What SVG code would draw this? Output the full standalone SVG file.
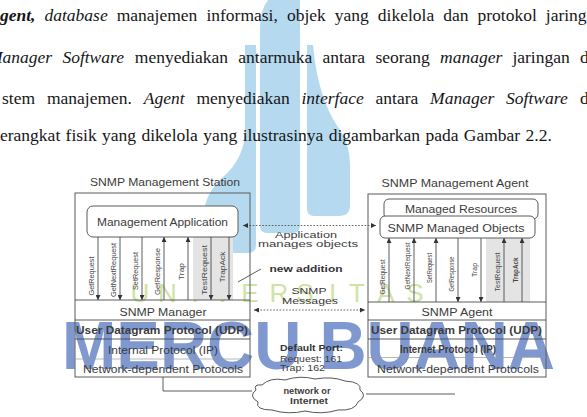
<svg xmlns="http://www.w3.org/2000/svg" width="587" height="417" viewBox="0 0 587 417">
<style>
.body{font-family:"Liberation Serif","Times New Roman",serif;font-size:17.5px;fill:#161616}
.it{font-style:italic}
.bi{font-style:italic;font-weight:bold}
.dg{font-family:"Liberation Sans",Arial,sans-serif;fill:#3c3c3c}
.box{fill:none;stroke:#5a5a5a;stroke-width:1}
.ln{stroke:#4a4a4a;stroke-width:0.9;fill:none}
.faint{stroke:#9a9a9a;stroke-width:0.7}
.dot{stroke:#555;stroke-width:0.9;stroke-dasharray:1.6 1.6;fill:none}
.vl{font-family:"Liberation Sans",Arial,sans-serif;font-size:8px;fill:#444}
.wm{fill:#b5daf0}
</style>
<defs>
<marker id="ah" viewBox="0 0 6 6" refX="6" refY="3" markerWidth="5" markerHeight="5" markerUnits="userSpaceOnUse" orient="auto-start-reverse">
<path d="M0,0 L6,3 L0,6 z" fill="#333"/>
</marker>
</defs>
<rect width="587" height="417" fill="#fff"/>

<g id="watermark">
<path class="wm" d="M268,0 L300,0 L300,226 Q300,233 293,233 L267,233 Q260,233 260,226 L260,30 Q260,10 268,0 Z"/>
<path class="wm" d="M245,45 L256,45 L256,245 Q256,253 248,253 L218,253 Q204,253 204,238 L204,215 Q204,195 222,178 Q245,158 245,130 Z"/>
<path class="wm" d="M307,45 L313,45 Q318,100 340,130 Q350,145 350,165 L350,205 Q350,216 339,216 L314,216 Q307,216 307,209 Z"/>
<text x="62" y="369" textLength="493" lengthAdjust="spacingAndGlyphs" font-family="Liberation Sans, Arial, sans-serif" font-size="69" font-weight="bold" fill="#7f99d0">MERCU BUANA</text>
<text x="140 167.5 195 222.5 250 279 305 332.5 357 386 415" y="302" text-anchor="middle" font-family="Liberation Sans, Arial, sans-serif" font-size="26" fill="#cfe3a6">UNIVERSITAS</text>
</g>

<g id="paragraph" class="body">
<text y="21"><tspan x="0" class="bi">gent,</tspan><tspan x="44.5" class="it">database</tspan><tspan x="116.7">manajemen</tspan><tspan x="206.4">informasi,</tspan><tspan x="286.9">objek</tspan><tspan x="334.8">yang</tspan><tspan x="377.8">dikelola</tspan><tspan x="443.2">dan</tspan><tspan x="477.5">protokol</tspan><tspan x="545.8">jaring</tspan></text>
<text y="63"><tspan x="-12" class="it">Manager</tspan><tspan x="62.4" class="it">Software</tspan><tspan x="134.8">menyediakan</tspan><tspan x="238.3">antarmuka</tspan><tspan x="322.4">antara</tspan><tspan x="375.4">seorang</tspan><tspan x="440" class="it">manager</tspan><tspan x="512.4">jaringan</tspan><tspan x="580">d</tspan></text>
<text y="103.5"><tspan x="2">stem</tspan><tspan x="46.9">manajemen.</tspan><tspan x="143.8" class="it">Agent</tspan><tspan x="196.4">menyediakan</tspan><tspan x="301.5" class="it">interface</tspan><tspan x="375.5">antara</tspan><tspan x="430.1" class="it">Manager</tspan><tspan x="506.1" class="it">Software</tspan><tspan x="580">d</tspan></text>
<text x="0" y="141" word-spacing="1">erangkat fisik yang dikelola yang ilustrasinya digambarkan pada Gambar 2.2.</text>
</g>

<g id="station">
<text class="dg" x="165" y="186" text-anchor="middle" font-size="10.5" textLength="150" lengthAdjust="spacingAndGlyphs">SNMP Management Station</text>
<rect class="box" x="75" y="193" width="175" height="184"/>
<rect x="193" y="237" width="40" height="63" fill="#e4e4e4"/>
<rect x="87" y="206" width="151" height="31" rx="6" fill="#fff" stroke="#5a5a5a" stroke-width="1"/>
<text class="dg" x="162.5" y="225.5" text-anchor="middle" font-size="10.5" textLength="131" lengthAdjust="spacingAndGlyphs">Management Application</text>
<line class="ln" x1="75" y1="300" x2="250" y2="300"/>
<line class="ln" x1="75" y1="320" x2="250" y2="320"/>
<line class="ln" x1="75" y1="339" x2="250" y2="339"/>
<line class="faint" x1="75" y1="359" x2="250" y2="359"/>
<text class="dg" x="163" y="316" text-anchor="middle" font-size="10" textLength="87" lengthAdjust="spacingAndGlyphs">SNMP Manager</text>
<text class="dg" x="162" y="333.5" text-anchor="middle" font-size="10.5" font-weight="bold" textLength="172" lengthAdjust="spacingAndGlyphs" fill="#2c2c2c">User Datagram Protocol (UDP)</text>
<text class="dg" x="163" y="353.5" text-anchor="middle" font-size="10" textLength="110" lengthAdjust="spacingAndGlyphs">Internal Protocol (IP)</text>
<text class="dg" x="163" y="372.5" text-anchor="middle" font-size="10" textLength="160" lengthAdjust="spacingAndGlyphs">Network-dependent Protocols</text>
</g>

<g id="station-ops">
<line class="ln" x1="98" y1="237" x2="98" y2="300" marker-end="url(#ah)"/>
<line class="ln" x1="120" y1="237" x2="120" y2="300" marker-end="url(#ah)"/>
<line class="ln" x1="142" y1="237" x2="142" y2="300" marker-end="url(#ah)"/>
<line class="ln" x1="164" y1="300" x2="164" y2="237" marker-end="url(#ah)"/>
<line class="ln" x1="188" y1="300" x2="188" y2="237" marker-end="url(#ah)"/>
<line class="ln" x1="211" y1="237" x2="211" y2="300" marker-end="url(#ah)"/>
<line class="ln" x1="229" y1="237" x2="229" y2="300" marker-end="url(#ah)"/>
<text class="vl" transform="translate(94,276) rotate(-90)" text-anchor="middle" textLength="39" lengthAdjust="spacingAndGlyphs">GetRequest</text>
<text class="vl" transform="translate(116,270) rotate(-90)" text-anchor="middle" textLength="54" lengthAdjust="spacingAndGlyphs">GetNextRequest</text>
<text class="vl" transform="translate(138,271) rotate(-90)" text-anchor="middle" textLength="38" lengthAdjust="spacingAndGlyphs">SetRequest</text>
<text class="vl" transform="translate(160,271.5) rotate(-90)" text-anchor="middle" textLength="47" lengthAdjust="spacingAndGlyphs">GetResponse</text>
<text class="vl" transform="translate(184,271.5) rotate(-90)" text-anchor="middle" textLength="17" lengthAdjust="spacingAndGlyphs">Trap</text>
<text class="vl" transform="translate(207,270) rotate(-90)" text-anchor="middle" textLength="50" lengthAdjust="spacingAndGlyphs">TestRequest</text>
<text class="vl" transform="translate(225,267) rotate(-90)" text-anchor="middle" textLength="31" lengthAdjust="spacingAndGlyphs">TrapAck</text>
</g>

<g id="agent">
<text class="dg" x="455" y="187" text-anchor="middle" font-size="10.5" textLength="147" lengthAdjust="spacingAndGlyphs">SNMP Management Agent</text>
<rect class="box" x="368" y="194" width="178" height="183"/>
<rect x="486" y="238" width="44" height="64" fill="#e4e4e4"/>
<rect x="384" y="199" width="154" height="20" rx="5" fill="#fff" stroke="#5a5a5a" stroke-width="1"/>
<text class="dg" x="461" y="213" text-anchor="middle" font-size="10.5" textLength="112" lengthAdjust="spacingAndGlyphs">Managed Resources</text>
<rect x="380" y="216" width="155" height="22" rx="5" fill="#fff" stroke="#5a5a5a" stroke-width="1"/>
<text class="dg" x="456" y="231.5" text-anchor="middle" font-size="11" textLength="137" lengthAdjust="spacingAndGlyphs">SNMP Managed Objects</text>
<line class="ln" x1="368" y1="302" x2="546" y2="302"/>
<line class="ln" x1="368" y1="320" x2="546" y2="320"/>
<line class="ln" x1="368" y1="339" x2="546" y2="339"/>
<line class="faint" x1="368" y1="357.5" x2="546" y2="357.5"/>
<text class="dg" x="457" y="315.5" text-anchor="middle" font-size="10" textLength="71" lengthAdjust="spacingAndGlyphs">SNMP Agent</text>
<text class="dg" x="456.5" y="333.5" text-anchor="middle" font-size="10.5" font-weight="bold" textLength="171" lengthAdjust="spacingAndGlyphs" fill="#2c2c2c">User Datagram Protocol (UDP)</text>
<text class="dg" x="448" y="352.5" text-anchor="middle" font-size="10" font-weight="bold" textLength="96" lengthAdjust="spacingAndGlyphs" fill="#333">Internet Protocol (IP)</text>
<text class="dg" x="458" y="372.5" text-anchor="middle" font-size="10" textLength="162" lengthAdjust="spacingAndGlyphs">Network-dependent Protocols</text>
</g>

<g id="agent-ops">
<line class="ln" x1="389" y1="302" x2="389" y2="238" marker-end="url(#ah)"/>
<line class="ln" x1="414" y1="302" x2="414" y2="238" marker-end="url(#ah)"/>
<line class="ln" x1="436" y1="302" x2="436" y2="238" marker-end="url(#ah)"/>
<line class="ln" x1="458" y1="238" x2="458" y2="302" marker-end="url(#ah)"/>
<line class="ln" x1="481" y1="238" x2="481" y2="302" marker-end="url(#ah)"/>
<line class="ln" x1="504" y1="302" x2="504" y2="238" marker-end="url(#ah)"/>
<line class="ln" x1="522" y1="302" x2="522" y2="238" marker-end="url(#ah)"/>
<text class="vl" transform="translate(385,277) rotate(-90)" text-anchor="middle" textLength="35" lengthAdjust="spacingAndGlyphs">GetRequest</text>
<text class="vl" transform="translate(410,266) rotate(-90)" text-anchor="middle" textLength="47" lengthAdjust="spacingAndGlyphs">GetNextRequest</text>
<text class="vl" transform="translate(432,268) rotate(-90)" text-anchor="middle" textLength="30" lengthAdjust="spacingAndGlyphs">SetRequest</text>
<text class="vl" transform="translate(454,274) rotate(-90)" text-anchor="middle" textLength="35" lengthAdjust="spacingAndGlyphs">GetResponse</text>
<text class="vl" transform="translate(477,270) rotate(-90)" text-anchor="middle" textLength="14" lengthAdjust="spacingAndGlyphs">Trap</text>
<text class="vl" transform="translate(500,272) rotate(-90)" text-anchor="middle" textLength="39" lengthAdjust="spacingAndGlyphs">TestRequest</text>
<text class="vl" transform="translate(518,270) rotate(-90)" text-anchor="middle" textLength="25" lengthAdjust="spacingAndGlyphs" font-weight="bold">TrapAck</text>
</g>

<g id="connectors">
<line class="dot" x1="243" y1="225.5" x2="376" y2="225.5" marker-start="url(#ah)" marker-end="url(#ah)"/>
<line class="dot" x1="254" y1="310" x2="365" y2="310" marker-start="url(#ah)" marker-end="url(#ah)"/>
<line class="ln" x1="261" y1="269" x2="238" y2="282"/>
<path class="ln" d="M163,377 V391 H252"/>
<path class="ln" d="M366,394 H455"/>
</g>

<g id="middle-labels" class="dg" font-size="9">
<text x="306" y="238" text-anchor="middle" textLength="62" lengthAdjust="spacingAndGlyphs">Application</text>
<text x="308" y="247" text-anchor="middle" textLength="100" lengthAdjust="spacingAndGlyphs">manages objects</text>
<text x="306" y="272" text-anchor="middle" font-weight="bold" textLength="73" lengthAdjust="spacingAndGlyphs" fill="#333">new addition</text>
<text x="309" y="294" text-anchor="middle" textLength="35" lengthAdjust="spacingAndGlyphs">SNMP</text>
<text x="310" y="304" text-anchor="middle" textLength="56" lengthAdjust="spacingAndGlyphs">Messages</text>
</g>

<g id="default-port" class="dg" font-size="8.5">
<text x="280" y="351" font-weight="bold" textLength="63" lengthAdjust="spacingAndGlyphs" fill="#333">Default Port:</text>
<text x="280" y="361.5" textLength="62" lengthAdjust="spacingAndGlyphs">Request: 161</text>
<text x="280" y="370.5" textLength="45" lengthAdjust="spacingAndGlyphs">Trap: 162</text>
</g>

<g id="cloud">
<path d="M262,385 Q270,377 285,380 Q300,375 315,379 Q332,376 345,381 Q362,382 360,390 Q368,396 358,402 Q355,411 338,410 Q322,415 305,411 Q288,415 272,410 Q255,410 258,402 Q248,396 256,390 Q253,384 262,385 Z" fill="#fff" stroke="#444" stroke-width="0.9"/>
<text class="dg" x="307" y="394" text-anchor="middle" font-size="9" font-weight="bold" textLength="47" lengthAdjust="spacingAndGlyphs" fill="#333">network or</text>
<text class="dg" x="309" y="404" text-anchor="middle" font-size="9" font-weight="bold" textLength="38" lengthAdjust="spacingAndGlyphs" fill="#333">Internet</text>
</g>
</svg>
